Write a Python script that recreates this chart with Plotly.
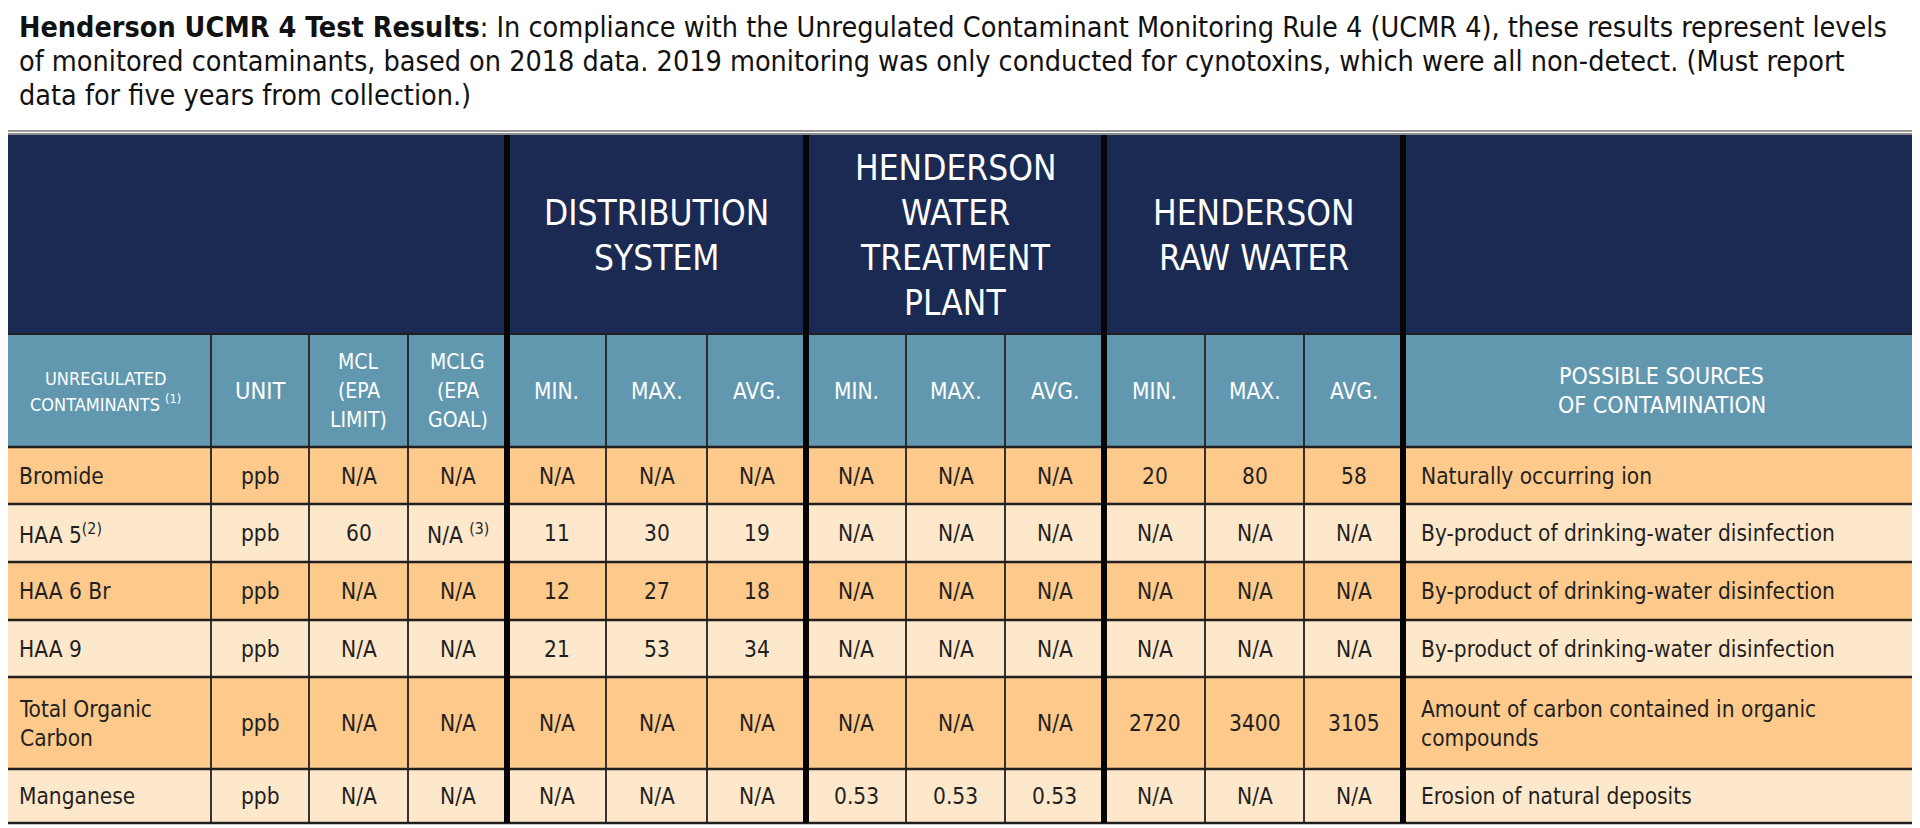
import plotly.graph_objects as go

# ---------------- data ----------------
title_lines = [
    "<b>Henderson UCMR 4 Test Results</b>: In compliance with the Unregulated Contaminant Monitoring Rule 4 (UCMR 4), these results represent levels",
    "of monitored contaminants, based on 2018 data. 2019 monitoring was only conducted for cynotoxins, which were all non-detect. (Must report",
    "data for five years from collection.)",
]
group_headers = [
    ["DISTRIBUTION", "SYSTEM"],
    ["HENDERSON", "WATER", "TREATMENT", "PLANT"],
    ["HENDERSON", "RAW WATER"],
]
sub_headers = [
    ["UNREGULATED", "CONTAMINANTS <sup>(1)</sup>"],
    ["UNIT"],
    ["MCL", "(EPA", "LIMIT)"],
    ["MCLG", "(EPA", "GOAL)"],
    ["MIN."], ["MAX."], ["AVG."],
    ["MIN."], ["MAX."], ["AVG."],
    ["MIN."], ["MAX."], ["AVG."],
    ["POSSIBLE SOURCES", "OF CONTAMINATION"],
]
contaminants = ["Bromide", "HAA 5<sup>(2)</sup>", "HAA 6 Br", "HAA 9", "Total Organic<br>Carbon", "Manganese"]
units = ["ppb", "ppb", "ppb", "ppb", "ppb", "ppb"]
mcl = ["N/A", "60", "N/A", "N/A", "N/A", "N/A"]
mclg = ["N/A", "N/A <sup>(3)</sup>", "N/A", "N/A", "N/A", "N/A"]
ds_min = ["N/A", "11", "12", "21", "N/A", "N/A"]
ds_max = ["N/A", "30", "27", "53", "N/A", "N/A"]
ds_avg = ["N/A", "19", "18", "34", "N/A", "N/A"]
wtp_min = ["N/A", "N/A", "N/A", "N/A", "N/A", "0.53"]
wtp_max = ["N/A", "N/A", "N/A", "N/A", "N/A", "0.53"]
wtp_avg = ["N/A", "N/A", "N/A", "N/A", "N/A", "0.53"]
raw_min = ["20", "N/A", "N/A", "N/A", "2720", "N/A"]
raw_max = ["80", "N/A", "N/A", "N/A", "3400", "N/A"]
raw_avg = ["58", "N/A", "N/A", "N/A", "3105", "N/A"]
sources = [
    "Naturally occurring ion",
    "By-product of drinking-water disinfection",
    "By-product of drinking-water disinfection",
    "By-product of drinking-water disinfection",
    "Amount of carbon contained in organic<br>compounds",
    "Erosion of natural deposits",
]

# ---------------- layout geometry (screen pixels) ----------------
W, H = 1920, 828
OFF = 8  # default page body margin
col_edges = [0, 211, 309, 408, 507, 606, 707, 806, 906, 1005, 1104, 1205, 1304, 1403, 1920]
thick_cols = [507, 806, 1104, 1403]
group_spans = [(507, 806), (806, 1104), (1104, 1403)]
title_top, title_bot = 0, 131
navy_top, navy_bot = 135, 334
sub_top, sub_bot = 334, 447
row_edges = [447, 504, 562, 620, 677, 769, 823]

NAVY = "#1B2A52"
BLUE = "#6198B0"
ORANGE = "#FDCA8B"
CREAM = "#FEE8CC"
INK = "#231F20"
FONT = "Liberation Sans Narrow, DejaVu Sans Condensed, Arial Narrow, sans-serif"

columns = [contaminants, units, mcl, mclg, ds_min, ds_max, ds_avg,
           wtp_min, wtp_max, wtp_avg, raw_min, raw_max, raw_avg, sources]

fig = go.Figure()
fig.add_trace(go.Scatter(x=[OFF, W], y=[OFF, H], mode="markers",
                         marker=dict(opacity=0), hoverinfo="skip", showlegend=False))

shapes = []
ann = []

def rect(x0, y0, x1, y1, fill, lw=0, lc=INK):
    shapes.append(dict(type="rect", xref="x", yref="y", x0=x0, y0=y0, x1=x1, y1=y1,
                       fillcolor=fill, line=dict(width=lw, color=lc), layer="below"))

def line(x0, y0, x1, y1, w, c=INK):
    shapes.append(dict(type="line", xref="x", yref="y", x0=x0, y0=y0, x1=x1, y1=y1,
                       line=dict(width=w, color=c)))

def text(x, y, s, size, color=INK, anchor="center"):
    ann.append(dict(x=x, y=y, xref="x", yref="y", text=s, showarrow=False,
                    xanchor=anchor, yanchor="middle", align="left" if anchor == "left" else "center",
                    font=dict(family=FONT, size=size, color=color)))

# title box
rect(0, title_top, W - 2, title_bot, "white", 2, "#9A9A9A")
for i, s in enumerate(title_lines):
    text(17, 27 + i * 34, s, 28.5, "#111111", "left")

# navy header
rect(0, navy_top, W, navy_bot, NAVY)
line(0, navy_top - 1, W, navy_top - 1, 2, "#8C8C8C")
for (x0, x1), lines in zip(group_spans, group_headers):
    n = len(lines)
    cy = (navy_top + navy_bot) / 2 + 1
    for j, s in enumerate(lines):
        text((x0 + x1) / 2, cy + (j - (n - 1) / 2) * 45, s, 35, "white")

# sub header
rect(0, sub_top, W, sub_bot, BLUE)
line(0, sub_top, W, sub_top, 2)
sub_sizes = [18, 23.5, 21, 21] + [22.5] * 9 + [23]
sub_spacing = [25, 0, 29, 29] + [0] * 9 + [29]
for c, lines in enumerate(sub_headers):
    x0, x1 = col_edges[c], col_edges[c + 1]
    cy = (sub_top + sub_bot) / 2
    n = len(lines)
    for j, s in enumerate(lines):
        text((x0 + x1) / 2, cy + (j - (n - 1) / 2) * sub_spacing[c], s, sub_sizes[c], "white")

# data rows
for r in range(len(contaminants)):
    y0, y1 = row_edges[r], row_edges[r + 1]
    rect(0, y0, W, y1, ORANGE if r % 2 == 0 else CREAM)
    cy = (y0 + y1) / 2
    for c, col in enumerate(columns):
        x0, x1 = col_edges[c], col_edges[c + 1]
        if c == 0:
            text(x0 + 17, cy, col[r], 22.5, INK, "left")
        elif c == len(columns) - 1:
            text(x0 + 16, cy, col[r], 22.5, INK, "left")
        else:
            text((x0 + x1) / 2, cy, col[r], 22.5, INK)

# horizontal grid lines
for y in row_edges:
    line(0, y, W, y, 2.5)
# vertical thin lines
for x in col_edges[1:-1]:
    if x not in thick_cols:
        line(x, sub_top, x, row_edges[-1], 1.8)
# thick group separators
for x in thick_cols:
    line(x, navy_top, x, row_edges[-1], 6, "#050505")

fig.update_layout(
    width=W - OFF, height=H - OFF,
    margin=dict(l=0, r=0, t=0, b=0),
    paper_bgcolor="white", plot_bgcolor="white",
    xaxis=dict(range=[OFF, W], visible=False, fixedrange=True),
    yaxis=dict(range=[H, OFF], visible=False, fixedrange=True),
    shapes=shapes, annotations=ann, showlegend=False,
)
fig.write_html("out.html")
